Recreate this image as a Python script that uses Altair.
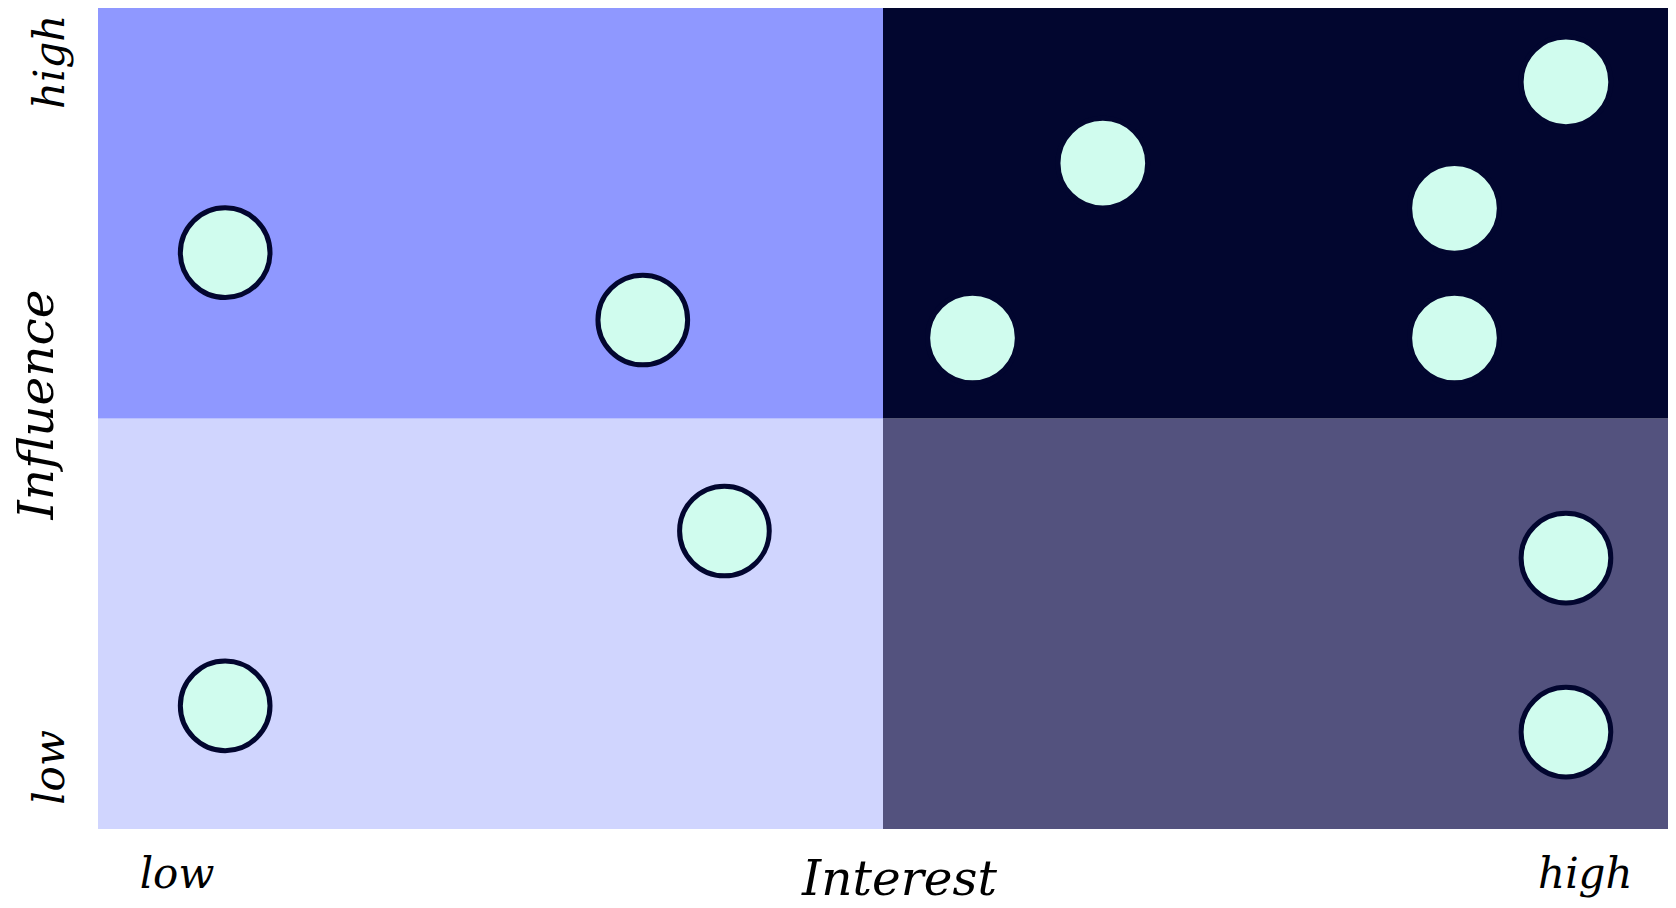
import altair as alt
import pandas as pd

# Quadrant backgrounds (Interest on x, Influence on y)
quadrant_names = ["low-interest/low-influence", "low-interest/high-influence",
                  "high-interest/low-influence", "high-interest/high-influence"]
quadrant_x0 = [0, 0, 5, 5]
quadrant_x1 = [5, 5, 10, 10]
quadrant_y0 = [0, 5, 0, 5]
quadrant_y1 = [5, 10, 5, 10]
quadrant_colors = ["#D0D5FE", "#8F98FF", "#53527E", "#02062F"]

# Stakeholder points
interest = [0.81, 3.47, 3.99, 0.81, 6.40, 9.35, 8.64, 5.57, 8.64, 9.35, 9.35]
influence = [7.02, 6.20, 3.63, 1.50, 8.11, 9.10, 7.56, 5.98, 5.98, 3.30, 1.18]

# Axis tick labels
x_tick_values = [0.5, 9.47]
x_tick_labels = ["low", "high"]
y_tick_values = [0.755, 9.35]
y_tick_labels = ["low", "high"]

FONT = "DejaVu Serif"

quad_df = pd.DataFrame({"quadrant": quadrant_names, "x0": quadrant_x0, "x1": quadrant_x1,
                        "y0": quadrant_y0, "y1": quadrant_y1})
pts_df = pd.DataFrame({"interest": interest, "influence": influence})

x_scale = alt.Scale(domain=[0, 10], nice=False, zero=False)
y_scale = alt.Scale(domain=[0, 10], nice=False, zero=False)

x_axis = alt.Axis(
    values=x_tick_values,
    labelExpr=f"datum.value < 5 ? '{x_tick_labels[0]}' : '{x_tick_labels[1]}'",
    title="Interest", domain=False, ticks=False, tickSize=0, grid=False,
    labelFont=FONT, labelFontStyle="italic", labelFontSize=42, labelColor="black",
    labelPadding=58, labelBaseline="alphabetic", labelAlign="center",
    labelFlush=False, labelOverlap=False,
    titleFont=FONT, titleFontStyle="italic", titleFontWeight="normal", titleFontSize=48.5,
    titleColor="black", titleX=801, titleY=65, titleAlign="center", titleBaseline="alphabetic",
)
y_axis = alt.Axis(
    values=y_tick_values,
    labelExpr=f"datum.value < 5 ? '{y_tick_labels[0]}' : '{y_tick_labels[1]}'",
    title="Influence", domain=False, ticks=False, tickSize=0, grid=False,
    labelFont=FONT, labelFontStyle="italic", labelFontSize=42, labelColor="black",
    labelPadding=35, labelBaseline="alphabetic", labelAlign="center", labelAngle=270,
    labelFlush=False, labelOverlap=False,
    titleFont=FONT, titleFontStyle="italic", titleFontWeight="normal", titleFontSize=48.5,
    titleColor="black", titleX=-46, titleY=396, titleAlign="center", titleBaseline="alphabetic",
    titleAngle=270,
)

quads = alt.Chart(quad_df).mark_rect(opacity=1, strokeWidth=0).encode(
    x=alt.X("x0:Q", scale=x_scale, axis=x_axis),
    x2="x1:Q",
    y=alt.Y("y0:Q", scale=y_scale, axis=y_axis),
    y2="y1:Q",
    color=alt.Color("quadrant:N", scale=alt.Scale(domain=quadrant_names, range=quadrant_colors),
                    legend=None),
)

points = alt.Chart(pts_df).mark_circle(
    size=8040, fill="#D0FCEE", stroke="#02062F", strokeWidth=5, opacity=1, fillOpacity=1
).encode(
    x=alt.X("interest:Q", scale=x_scale, axis=x_axis),
    y=alt.Y("influence:Q", scale=y_scale, axis=y_axis),
)

chart = alt.layer(quads, points).properties(
    width=1570, height=821,
    autosize=alt.AutoSizeParams(type="none"),
    padding={"left": 90, "top": 0, "right": 0, "bottom": 76},
).configure_view(strokeWidth=0)

chart.save("out.html", embed_options={"renderer": "svg", "actions": False})
